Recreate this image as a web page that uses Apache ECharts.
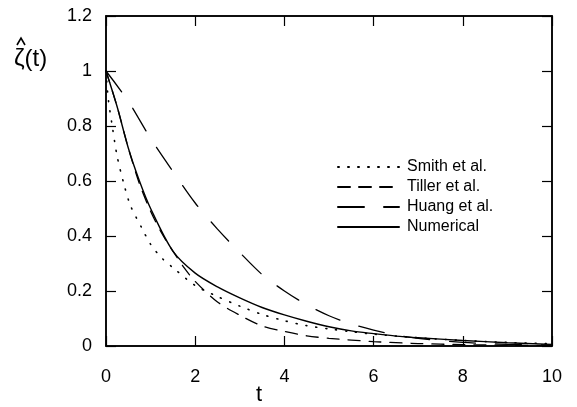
<!DOCTYPE html>
<html><head><meta charset="utf-8">
<script src="https://cdn.jsdelivr.net/npm/echarts@6/dist/echarts.min.js"></script>
<style>html,body{margin:0;padding:0;background:#fff}#c{width:577px;height:407px}</style>
</head><body><div id="c"></div>
<script>
var xTicks = [0, 2, 4, 6, 8, 10];
var yTicks = [0, 0.2, 0.4, 0.6, 0.8, 1, 1.2];
var smithT = [0, 0.05, 0.14, 0.25, 0.4, 0.55, 0.8, 1, 1.25, 1.5, 2, 2.5, 3, 3.5, 4, 4.5, 5, 5.5, 6, 7, 8, 9, 10];
var smithV = [1, 0.9, 0.8, 0.69, 0.59, 0.51, 0.43, 0.37, 0.32, 0.285, 0.22, 0.18, 0.145, 0.115, 0.092, 0.074, 0.062, 0.052, 0.043, 0.03, 0.02, 0.013, 0.008];
var tillerT = [0, 0.25, 0.5, 0.75, 1, 1.25, 1.5, 1.75, 2, 2.5, 3, 3.5, 4, 4.5, 5, 6, 7, 8, 9, 10];
var tillerV = [1, 0.87, 0.72, 0.59, 0.49, 0.41, 0.345, 0.285, 0.235, 0.16, 0.112, 0.073, 0.053, 0.037, 0.028, 0.016, 0.009, 0.005, 0.003, 0.002];
var huangT = [0, 0.5, 1, 1.5, 2, 2.5, 3, 3.5, 4, 4.5, 5, 5.5, 6, 6.5, 7, 8, 9, 10];
var huangV = [1, 0.89, 0.755, 0.635, 0.52, 0.425, 0.34, 0.26, 0.2, 0.15, 0.11, 0.08, 0.058, 0.04, 0.028, 0.013, 0.006, 0.003];
var numT = [0, 0.25, 0.5, 0.75, 1, 1.5, 2, 2.5, 3, 3.5, 4, 4.5, 5, 5.5, 6, 6.5, 7, 8, 9, 10];
var numV = [1, 0.87, 0.72, 0.6, 0.5, 0.345, 0.265, 0.215, 0.175, 0.14, 0.113, 0.09, 0.07, 0.055, 0.045, 0.036, 0.03, 0.02, 0.012, 0.006];
var names = ['Smith et al.', 'Tiller et al.', 'Huang et al.', 'Numerical'];

function pairs(t, v) { return t.map(function (x, i) { return [x, v[i]]; }); }
var FONT = 'Liberation Sans, Arial, sans-serif';
var chart = echarts.init(document.getElementById('c'));
function axis(extra) {
  var base = {
    type: 'value', show: true,
    axisLine: { show: true, onZero: false, lineStyle: { color: '#000', width: 1.5 } },
    axisTick: { show: true, inside: true, length: 10, lineStyle: { color: '#000', width: 1.2 } },
    splitLine: { show: false }
  };
  return Object.assign(base, extra);
}
function mk(name, t, v, type, width) {
  return {
    name: name, type: 'line', data: pairs(t, v), symbol: 'none', smooth: 0.3,
    lineStyle: { color: '#000', width: width, type: type, cap: 'round' },
    itemStyle: { color: '#000' }
  };
}
var series = [
  mk(names[0], smithT, smithV, [1, 9], 1.6),
  mk(names[1], tillerT, tillerV, [12, 9], 1.3),
  mk(names[2], huangT, huangV, [26, 20], 1.3),
  mk(names[3], numT, numV, 'solid', 1.4),
  { type: 'line', xAxisIndex: 1, yAxisIndex: 1, data: [[0, 0], [10, 1.2]], symbol: 'none', silent: true,
    lineStyle: { opacity: 0 } }
];
chart.setOption({
  animation: false,
  backgroundColor: '#fff',
  grid: { left: 106, right: 25, top: 16, bottom: 61, show: true, borderColor: '#000', borderWidth: 1.5 },
  xAxis: [
    axis({ min: 0, max: 10, interval: 2, position: 'bottom',
      axisLabel: { color: '#000', fontSize: 18, fontFamily: FONT, margin: 22 } }),
    axis({ min: 0, max: 10, interval: 2, position: 'top', axisLabel: { show: false } })
  ],
  yAxis: [
    axis({ min: 0, max: 1.2, interval: 0.2, position: 'left',
      axisLabel: { color: '#000', fontSize: 18, fontFamily: FONT, margin: 14 } }),
    axis({ min: 0, max: 1.2, interval: 0.2, position: 'right', axisLabel: { show: false } })
  ],
  legend: {
    orient: 'vertical', left: 337, top: 159, padding: 0, itemWidth: 61, itemHeight: 14, itemGap: 4,
    itemStyle: { opacity: 0 },
    textStyle: { color: '#000', fontSize: 16, fontFamily: FONT, padding: [0, 0, 0, 3] },
    data: names
  },
  graphic: [
    { type: 'text', left: 14, top: 47, style: { text: 'ζ(t)', font: '24px ' + FONT, fill: '#000' } },
    { type: 'polyline', shape: { points: [[17, 45], [21, 38], [25, 45]] }, style: { stroke: '#000', lineWidth: 1.6, fill: null } },
    { type: 'text', left: 256, top: 384, style: { text: 't', font: '22px ' + FONT, fill: '#000' } }
  ],
  series: series
});
</script></body></html>
